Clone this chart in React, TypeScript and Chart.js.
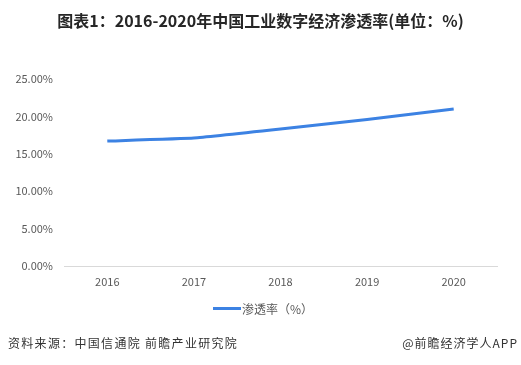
import React, { useEffect, useRef } from "react";
import { Chart, registerables } from "chart.js";

Chart.register(...registerables);

const categories = ["2016", "2017", "2018", "2019", "2020"];
const penetration = [16.7, 17.1, 18.3, 19.6, 21.0];
const yTicks = [0, 5, 10, 15, 20, 25];
const seriesName = "渗透率（%）";
const titleText = "图表1：2016-2020年中国工业数字经济渗透率(单位：%)";
const sourceText = "资料来源：中国信通院 前瞻产业研究院";
const brandText = "@前瞻经济学人APP";

const FONT = "'Noto Sans CJK SC', 'Microsoft YaHei', sans-serif";
const LINE_COLOR = "#3c82e3";

export default function App() {
  const ref = useRef<HTMLCanvasElement | null>(null);

  useEffect(() => {
    document.body.style.margin = "0";
    const ctx = ref.current!;
    const chart = new Chart(ctx, {
      type: "line",
      data: {
        labels: categories,
        datasets: [
          {
            label: seriesName,
            data: penetration,
            borderColor: LINE_COLOR,
            backgroundColor: LINE_COLOR,
            borderWidth: 3,
            pointRadius: 0,
            tension: 0.1,
            fill: false,
          },
        ],
      },
      options: {
        animation: false,
        responsive: false,
        maintainAspectRatio: false,
        layout: { padding: { top: 79, right: 24, bottom: 69, left: 0 } },
        plugins: {
          legend: { display: false },
          title: { display: false },
          tooltip: { enabled: false },
        },
        scales: {
          x: {
            offset: true,
            grid: { display: false, drawTicks: false },
            border: { display: true, color: "#d9d9d9", width: 1 },
            ticks: {
              color: "#595959",
              font: { family: FONT, size: 11 },
              padding: 9,
            },
            afterFit: (s: any) => {
              s.height = 30;
            },
          },
          y: {
            min: 0,
            max: 25,
            grid: { display: false, drawTicks: false },
            border: { display: false },
            afterBuildTicks: (s: any) => {
              s.ticks = yTicks.map((v) => ({ value: v }));
            },
            ticks: {
              color: "#595959",
              font: { family: FONT, size: 11 },
              padding: 11,
              callback: (v: any) => Number(v).toFixed(2) + "%",
            },
            afterFit: (s: any) => {
              s.width = 64;
            },
          },
        },
      },
    });
    return () => chart.destroy();
  }, []);

  return (
    <div
      style={{
        position: "absolute",
        left: 0,
        top: 0,
        width: 521,
        height: 365,
        background: "#fff",
        fontFamily: FONT,
        overflow: "hidden",
      }}
    >
      <canvas ref={ref} width={521} height={365} style={{ position: "absolute", left: 0, top: 0, width: 521, height: 365 }} />
      <div
        style={{
          position: "absolute",
          left: 0,
          width: 521,
          top: 9,
          textAlign: "center",
          fontSize: 16,
          fontWeight: "bold",
          color: "#262626",
          lineHeight: "22px",
          whiteSpace: "nowrap",
        }}
      >
        {titleText}
      </div>
      <div
        style={{
          position: "absolute",
          left: 213,
          top: 299,
          height: 18,
          display: "flex",
          alignItems: "center",
          fontSize: 12,
          color: "#595959",
          whiteSpace: "nowrap",
        }}
      >
        <span style={{ display: "inline-block", width: 28, height: 3, background: LINE_COLOR, marginRight: 1 }} />
        <span>{seriesName}</span>
      </div>
      <div
        style={{
          position: "absolute",
          left: 8,
          top: 334,
          fontSize: 12,
          letterSpacing: "1.3px",
          color: "#333",
          lineHeight: "18px",
          whiteSpace: "nowrap",
        }}
      >
        {sourceText}
      </div>
      <div
        style={{
          position: "absolute",
          right: 3,
          top: 334,
          fontSize: 12,
          letterSpacing: "1px",
          color: "#333",
          lineHeight: "18px",
          whiteSpace: "nowrap",
        }}
      >
        {brandText}
      </div>
    </div>
  );
}
